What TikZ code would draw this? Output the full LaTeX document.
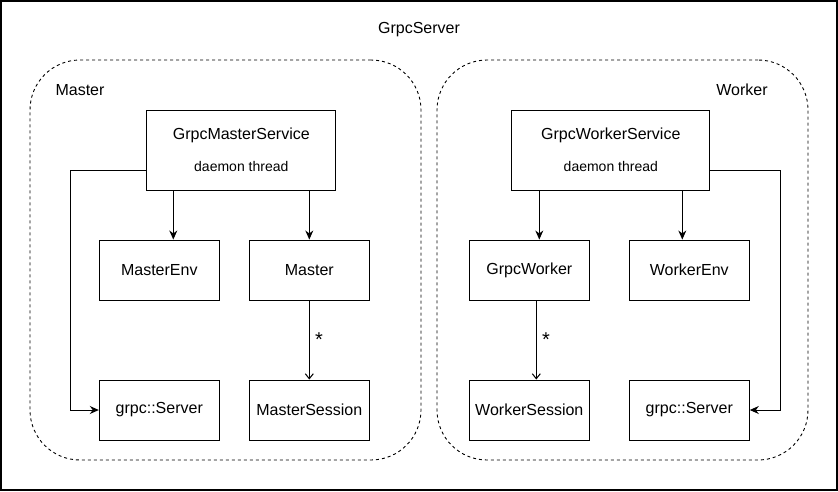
\documentclass[tikz,border=0pt]{standalone}
\usepackage{fontspec}
\setmainfont{Liberation Sans}
\usetikzlibrary{arrows.meta}

\begin{document}
\begin{tikzpicture}[
    x=1pt, y=-1pt,
    every node/.style={font=\fontsize{16}{19}\selectfont},
    group/.style={rectangle, draw, line width=0.9pt, dash pattern=on 3pt off 3pt, rounded corners=50pt, minimum width=391pt, minimum height=400pt},
    box/.style={rectangle, draw, line width=1pt, minimum width=120pt, minimum height=60pt, align=center},
    arrow/.style={-{Stealth[length=9pt,width=8pt]}, line width=1pt},
    many/.style={-{Straight Barb[length=5pt,width=8pt]}, line width=1pt}
]
    \useasboundingbox (0,0) rectangle (838,491);

    \node[draw, line width=1.5pt, minimum width=836pt, minimum height=489pt] (server) at (419,245.5) {};
    \node (servertitle) at (419,30) {GrpcServer};

    \node[group] (mastergrp) at (225.5,260) {};
    \node[group, minimum width=371pt] (workergrp) at (622.5,260) {};
    \node (masterlbl) at (80,90) {Master};
    \node (workerlbl) at (742,90) {Worker};

    \node[box, minimum width=189pt, minimum height=80pt] (msvc) at (241.3,150) {GrpcMasterService\\[13pt]{\fontsize{14}{16}\selectfont daemon thread}};
    \node[box] (menv) at (159.3,270) {MasterEnv};
    \node[box] (master) at (309.3,270) {Master};
    \node[box] (lsrv) at (159.3,410) {grpc::Server};
    \node[box] (msess) at (309.3,410) {MasterSession};

    \node[box, minimum width=198pt, minimum height=80pt] (wsvc) at (610.8,150) {GrpcWorkerService\\[13pt]{\fontsize{14}{16}\selectfont daemon thread}};
    \node[box] (gw) at (529.3,270) {GrpcWorker};
    \node[box] (wenv) at (689.3,270) {WorkerEnv};
    \node[box] (wsess) at (529.3,410) {WorkerSession};
    \node[box] (rsrv) at (689.3,410) {grpc::Server};

    \draw[arrow] ([xshift=14pt]menv.north |- msvc.south) -- ([xshift=14pt]menv.north);
    \draw[arrow] (master.north |- msvc.south) -- (master.north);
    \draw[many] (master.south) -- (msess.north) node[midway, right=2pt, font=\fontsize{20}{20}\selectfont] {*};
    \draw[arrow] ([yshift=-20pt]msvc.west) -- ++(-76,0) |- (lsrv.west);

    \draw[arrow] ([xshift=10pt]gw.north |- wsvc.south) -- ([xshift=10pt]gw.north);
    \draw[arrow] ([xshift=-7pt]wenv.north |- wsvc.south) -- ([xshift=-7pt]wenv.north);
    \draw[many] ([xshift=7pt]gw.south) -- ([xshift=7pt]wsess.north) node[midway, right=2pt, font=\fontsize{20}{20}\selectfont] {*};
    \draw[arrow] ([yshift=-20pt]wsvc.east) -- ++(70,0) |- (rsrv.east);
\end{tikzpicture}
\end{document}
